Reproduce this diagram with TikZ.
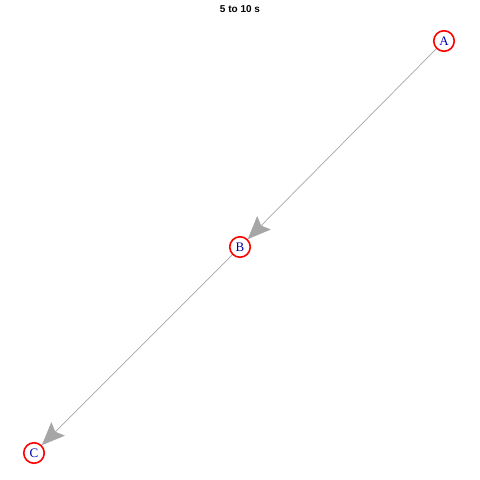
\documentclass[tikz,border=0pt]{standalone}
\usepackage{fontspec}
\setmainfont{Liberation Serif}
\newfontfamily\titlefont{Liberation Sans}
\usetikzlibrary{arrows.meta}
\definecolor{edgegray}{HTML}{A6A6A6}
\definecolor{labblue}{HTML}{0000B0}
\tikzset{
  vtx/.style={circle, draw=red, line width=1.6pt, fill=white, minimum size=20.5pt, inner sep=0pt, text=labblue, font=\fontsize{13}{13}\selectfont},
  edg/.style={draw=edgegray, line width=0.7pt, -{Stealth[length=23pt, width=19pt, inset=4pt, fill=edgegray]}}
}
\begin{document}
\begin{tikzpicture}[x=1pt, y=-1pt]
\useasboundingbox (0,0) rectangle (480,480);
\node[font=\titlefont\bfseries\fontsize{10}{10}\selectfont] (title) at (240,9) {5 to 10 s};
\node[vtx] (A) at (444,41) {A};
\node[vtx] (B) at (240,247) {B};
\node[vtx] (C) at (34,453) {C};
\draw[edg] (A) -- (B);
\draw[edg] (B) -- (C);
\end{tikzpicture}
\end{document}
